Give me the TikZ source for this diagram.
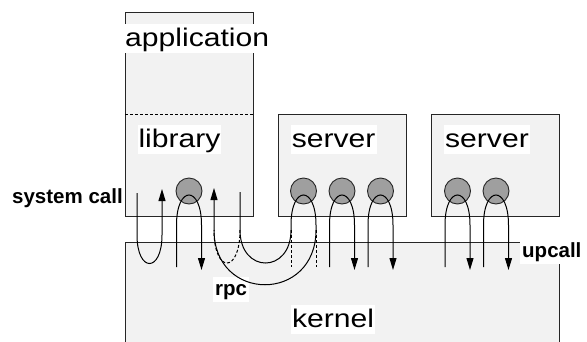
\documentclass[tikz,border=0pt]{standalone}
\usepackage{fontspec}
\setmainfont{Liberation Sans}
\usetikzlibrary{arrows.meta}
\begin{document}
\begin{tikzpicture}[x=1pt,y=-1pt,
  boxfill/.style={draw=black!85, fill=black!5, line width=0.9pt},
  thread/.style={circle, draw=black!85, fill=gray!75, minimum size=26pt, inner sep=0pt, line width=0.9pt},
  bigtext/.style={fill=white, inner xsep=1pt, inner ysep=1.5pt, text height=21pt, text depth=5pt,
    font=\fontsize{25.5pt}{28pt}\selectfont, anchor=base west},
  tag/.style={fill=white, inner sep=2pt, text height=16pt, text depth=5pt,
    font=\fontsize{20.5pt}{23pt}\selectfont\bfseries, anchor=base west},
  flow/.style={line width=1pt, -{Triangle[length=12pt,width=7pt]}},
  alt/.style={line width=1pt, dash pattern=on 3pt off 2pt},
  upcall loop/.pic={
    \draw[flow] (-12.5,76) -- (-12.5,34) .. controls (-12.5,-6) and (12.5,-6) .. (12.5,34) -- (12.5,79);
  },
]
\useasboundingbox (0,0) rectangle (587,341);

% address spaces
\draw[boxfill] (125,12) rectangle (253,216);
\draw[line width=0.7pt, dash pattern=on 3pt off 2pt] (125,114) -- (253,114);
\draw[boxfill] (278,114) rectangle (406,216);
\draw[boxfill] (431,114) rectangle (559,216);
\draw[boxfill] (125,242) rectangle (559,360);

% labels
\node[bigtext] (application) at (124,46) {\scalebox{1.18}[1]{application}};
\node[bigtext] (library) at (137.3,147) {\scalebox{1.18}[1]{library}};
\node[bigtext] (server1) at (290.7,147) {\scalebox{1.18}[1]{server}};
\node[bigtext] (server2) at (444,147) {\scalebox{1.18}[1]{server}};
\node[bigtext] (kernel) at (291,327) {\scalebox{1.18}[1]{kernel}};
\node[tag] (syscall) at (10,203) {system call};
\node[tag] (rpc) at (213,295) {rpc};
\node[tag] (upcall) at (520,257) {upcall};

% threads
\node[thread] (t0) at (189,191) {};
\node[thread] (s1a) at (303.5,191) {};
\node[thread] (s1b) at (342,191) {};
\node[thread] (s1c) at (380.5,191) {};
\node[thread] (s2a) at (457.5,191) {};
\node[thread] (s2b) at (496,191) {};

% system call into the kernel and back
\draw[flow] (137,193) -- (137,235) .. controls (137,273) and (162,273) .. (162,235) -- (162,189);

% upcalls through each thread
\pic at (t0.center) {upcall loop};
\pic at (s1b.center) {upcall loop};
\pic at (s1c.center) {upcall loop};
\pic at (s2a.center) {upcall loop};
\pic at (s2b.center) {upcall loop};

% rpc from the library through a server thread
\draw[flow] (240,192) -- (240,230) .. controls (240,274) and (291,274) .. (291,230) -- (291,225)
  .. controls (291,185) and (316,185) .. (316,225) -- (316,230)
  .. controls (316,303) and (214,303) .. (214,230) -- (214,188);
\draw[alt] (240,230) .. controls (240,274) and (214,274) .. (214,230);
\draw[alt] (291,230) -- (291,267);
\draw[alt] (316,230) -- (316,267);
\end{tikzpicture}
\end{document}
